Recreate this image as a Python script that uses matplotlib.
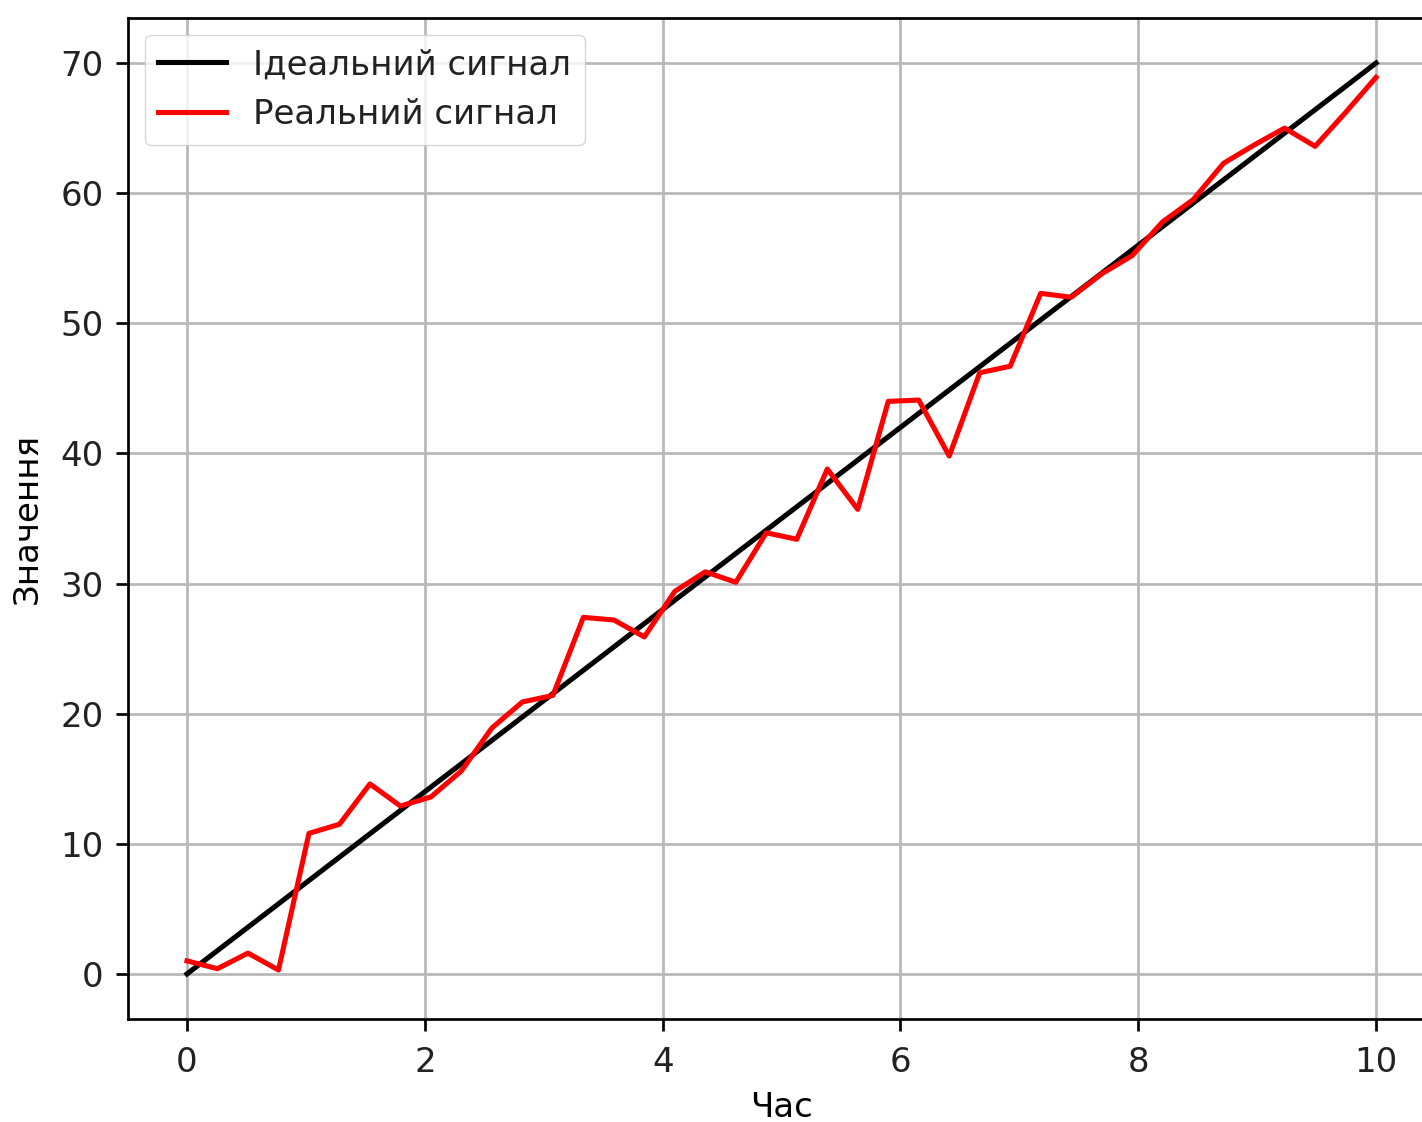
import numpy as np
import matplotlib
matplotlib.use("Agg")
import matplotlib.pyplot as plt

# Time samples and signals
time = np.linspace(0, 10, 40)
ideal = 7 * time
real = [1.0, 0.4, 1.6, 0.3, 10.8, 11.5, 14.6, 12.9, 13.6, 15.6,
        18.9, 20.9, 21.4, 27.4, 27.2, 25.9, 29.4, 30.9, 30.1, 33.9,
        33.4, 38.8, 35.7, 44.0, 44.1, 39.8, 46.2, 46.7, 52.3, 52.0,
        53.8, 55.2, 57.8, 59.5, 62.3, 63.7, 65.0, 63.6, 66.2, 68.9]

ideal_label = "Ідеальний сигнал"
real_label = "Реальний сигнал"
x_label = "Час"
y_label = "Значення"

s = 2.45  # overall scale factor for fonts and line widths
plt.rcParams.update({
    "font.family": ["DejaVu Sans"],
    "font.size": 10 * s,
    "lines.linewidth": 1.5 * s,
    "axes.linewidth": 0.8 * s,
    "grid.linewidth": 0.8 * s,
    "grid.color": "#b8b8b8",
    "xtick.major.size": 3.5 * s,
    "ytick.major.size": 3.5 * s,
    "xtick.major.width": 0.8 * s,
    "ytick.major.width": 0.8 * s,
    "xtick.major.pad": 4.2 * s,
    "ytick.major.pad": 3.5 * s,
    "text.color": "#222222",
    "xtick.labelcolor": "#222222",
    "ytick.labelcolor": "#222222",
    "legend.framealpha": 0.8,
})

fig = plt.figure(figsize=(14.22, 11.22), dpi=100)
ax = fig.add_axes([0.0897, 0.0914, 0.9198, 0.893])

ax.plot(time, ideal, color="black", label=ideal_label)
ax.plot(time, real, color="red", label=real_label)

ax.set_xlabel(x_label, labelpad=3.5 * s)
ax.set_ylabel(y_label, labelpad=5 * s)
ax.grid(True)
ax.legend(loc="upper left")

fig.savefig("out.png", dpi=100)
